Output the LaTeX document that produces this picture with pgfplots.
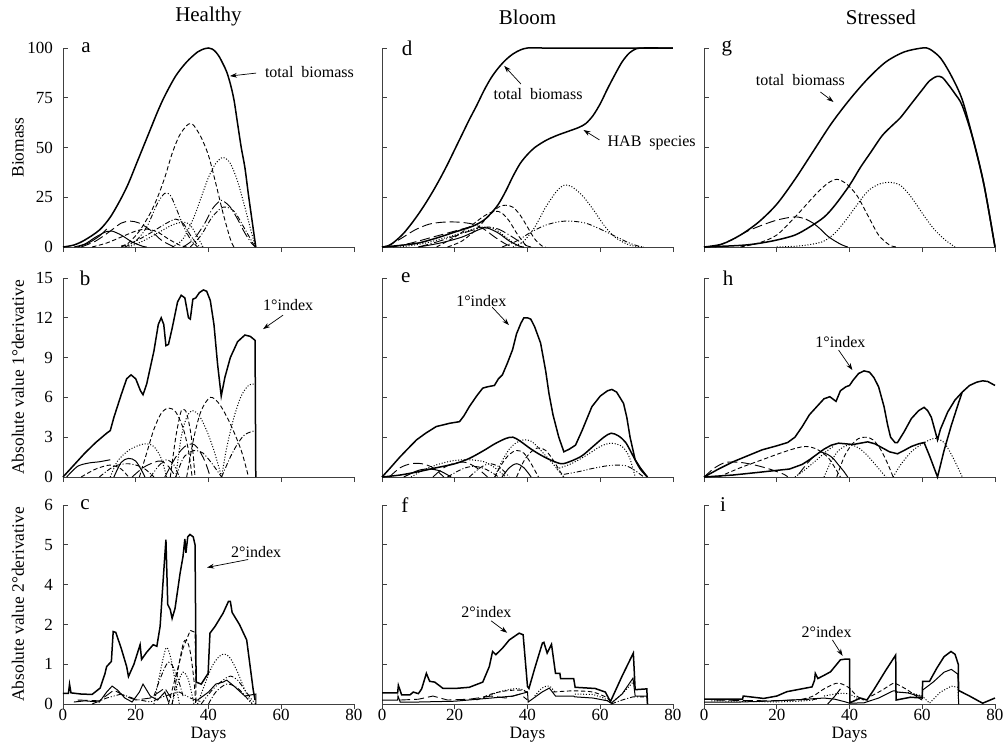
\documentclass[border=0pt]{standalone}
\usepackage{fontspec}
\setmainfont{Liberation Serif}
\usepackage{pgfplots}
\pgfplotsset{compat=1.18}
\usetikzlibrary{arrows.meta}
\tikzset{
  sp/.style={black, line width=0.5pt},
  idx/.style={black, line width=0.75pt},
  dsh/.style={black, line width=0.45pt, dash pattern=on 2.2pt off 1.3pt},
  dot/.style={black, line width=0.5pt, dash pattern=on 0.5pt off 0.9pt},
  ldsh/.style={black, line width=0.45pt, dash pattern=on 5pt off 2pt},
  ldd/.style={black, line width=0.45pt, dash pattern=on 5pt off 1.3pt on 0.5pt off 1.3pt},
  dd/.style={black, line width=0.45pt, dash pattern=on 2.5pt off 1pt on 0.5pt off 1pt},
  ddd/.style={black, line width=0.45pt, dash pattern=on 2.5pt off 1pt on 0.5pt off 1pt on 0.5pt off 1pt},
  ann/.style={font=\fontsize{8}{9}\selectfont},
  arr/.style={black, line width=0.35pt, -{Stealth[length=3.5pt,width=2.4pt]}},
  lett/.style={font=\fontsize{10.5}{12}\selectfont},
  ttl/.style={font=\fontsize{10.5}{12}\selectfont, anchor=center, inner sep=0pt},
}
\pgfplotsset{
  panel/.style={
    scale only axis, width=145.5pt, height=99.5pt, anchor=south west,
    xmin=0, xmax=80, xtick={0,20,40,60,80},
    axis lines=left,
    axis line style={black!75, line width=0.4pt, -},
    tick style={black!75, line width=0.4pt},
    major tick length=2.5pt,
    tick align=inside,
    major x tick style={yshift=-2.5pt},
    clip=false,
    /pgf/number format/assume math mode=true,
    tick label style={font=\fontsize{8.5}{10}\selectfont},
    label style={font=\fontsize{8.7}{10}\selectfont},
    yticklabel style={xshift=-1.5pt},
    xticklabel style={inner sep=1pt, yshift=-1.5pt},
    ylabel style={at={(axis description cs:-0.155,0.5)}, anchor=center},
    xlabel style={at={(axis description cs:0.5,-0.155)}, anchor=center, inner sep=0pt},
  },
  nox/.style={xticklabels={}},
  noy/.style={yticklabels={}},
  r1/.style={ymin=0,ymax=100,ytick={0,25,50,75,100}},
  r2/.style={ymin=0,ymax=15,ytick={0,3,6,9,12,15}},
  r3/.style={ymin=0,ymax=5,ytick={0,1,2,3,4,5}},
}
\begin{document}
\begin{tikzpicture}
\useasboundingbox (0pt,0pt) rectangle (501.5pt,-372pt);

% ================= a =================
\begin{axis}[panel, r1, nox, at={(31.5pt,-123.5pt)}, ylabel={Biomass}]
\addplot[idx, smooth] coordinates {(0,0)(3,1)(6,3.5)(10,8.5)(13,15)(16,24.5)(18,32)(20,41)(22,50)(24,59)(26,68)(28,76)(31,86)(34,93)(37,98)(39,99.7)(40,100)(41,99.5)(42,98)(43,95.5)(44,92)(45,88)(46,82)(47,74)(48,62)(49,50)(50,40)(51,26)(52,13)(53,0)};
\addplot[dsh, smooth] coordinates {(16,0.5)(18,2)(21,8)(24,17)(26,25)(28,35)(30,47)(32,56)(34,61)(35,62)(36,61)(38,55)(40,46)(42,32)(44,17)(46,4)(47,0)};
\addplot[dot, smooth] coordinates {(30,0)(33,4)(36,15)(38,25)(40,35)(42,42)(44,45)(46,42)(48,33)(50,20)(52,6)(53,0)};
\addplot[ldd, smooth] coordinates {(33,0)(36,4)(39,12)(41,19)(43,23)(44,23.2)(46,20)(48,14)(50,7)(52,1.5)(53,0)};
\addplot[ddd, smooth] coordinates {(17,0)(20,3)(23,10)(26,22)(28,27)(29.5,26)(31,20)(33,11)(35,4)(37,0)};
\addplot[dd, smooth] coordinates {(35,0)(38,6)(41,15)(44,20)(47,18)(50,9)(52.5,1)(53,0)};
\addplot[dd, smooth] coordinates {(16,0)(20,3)(24,7)(28,11.5)(31,14)(33,12)(35,6)(37,1)(38,0)};
\addplot[sp, smooth] coordinates {(3,0)(6,1.5)(9,5)(12,7.8)(13.5,8)(16,6)(19,2.5)(22,0.3)(23,0)};
\addplot[ldsh, smooth] coordinates {(5,0)(9,3)(13,8)(16,12)(18.5,13)(21,12)(24,8.5)(27,3.5)(30,0.5)(31,0)};
\addplot[dsh, smooth] coordinates {(8,0)(12,2)(16,5)(20,8)(23,9)(26,7.5)(29,4)(32,1)(34,0)};
\addplot[dot, smooth] coordinates {(18,0)(22,3)(26,7)(30,11)(33,12.5)(35,11)(37,5)(38.5,0)};
\addplot[sp, smooth] coordinates {(4,0)(7,2)(10,5.5)(12,9)};
\node[lett] at (rel axis cs:0.079,1) {a};
\node[ttl] at (rel axis cs:0.5,1.156) {Healthy};
\node[ann, anchor=west] at (axis cs:53.6,87.9) {total\ \ biomass};
\draw[arr] (axis cs:53.1,87.4) -- (axis cs:45.9,85.9);
\end{axis}

% ================= d =================
\begin{axis}[panel, r1, nox, noy, at={(191pt,-123.5pt)}]
\addplot[idx, smooth] coordinates {(0,0)(2,0.8)(4,3.5)(6,7)(8,11.5)(10,16.5)(12,22)(14,28)(16,34.5)(18,41.5)(20,49)(22,56.5)(24,64)(26,71)(28,78.5)(30,85)(32,90)(34,94)(36,97)(38,99)(40,100)(44,100)(48,100)(80,100)};
\addplot[idx, smooth] coordinates {(0,0)(5,0.8)(10,2)(15,4.5)(20,7.5)(25,10.5)(28,13.5)(30,17)(32,21.5)(34,28)(36,35.5)(38,42)(40,46.5)(42,50)(45,53.5)(48,56)(51,58)(54,60)(56,62)(58,66)(60,72)(62,79.5)(64,86.5)(66,93)(68,97.5)(70,99.7)(72,100)(76,100)(80,100)};
\addplot[dot, smooth] coordinates {(36,0)(39,3)(42,10)(45,20)(48,28)(50,31)(52,30.5)(55,26)(58,19)(61,11)(64,5)(68,1)(72,0)};
\addplot[ddd, smooth] coordinates {(33,0)(37,3)(41,7.5)(45,11)(49,12.8)(52,13)(56,12)(60,9)(64,5.5)(68,2)(71,0.2)(72,0)};
\addplot[dsh, smooth] coordinates {(18,0)(22,3)(26,9)(29,15)(32,20)(34,21)(36,20)(38,16)(40,10)(42,4)(44,0.5)(45,0)};
\addplot[dsh, smooth] coordinates {(15,0)(20,5)(24,10)(28,15.5)(31,18)(33,17)(35,13)(37,7)(39,2)(40,0)};
\addplot[ldsh, smooth] coordinates {(1,0)(5,4)(9,8.5)(13,11.5)(17,12.5)(21,12.5)(25,11.5)(28,9)(31,5)(34,1.5)(36,0)};
\addplot[ldd, smooth] coordinates {(10,0)(15,2.5)(20,5.5)(25,8.5)(29,10)(32,9)(35,6)(38,2.5)(40,0.5)(41,0)};
\addplot[dot, smooth] coordinates {(5,0)(12,2)(20,6)(25,9)(28,10)(31,9)(34,5)(37,1)(39,0)};
\addplot[sp, smooth] coordinates {(10,0)(16,2)(22,5)(27,9)(29,9.5)(32,7)(35,3)(38,0.3)(39,0)};
\addplot[ldsh, smooth] coordinates {(3,0)(8,2)(14,5)(20,8)(24,10)};
\node[lett] at (rel axis cs:0.086,1) {d};
\node[ttl] at (rel axis cs:0.5,1.156) {Bloom};
\node[ann] at (axis cs:42.9,76.9) {total\ \ biomass};
\draw[arr] (axis cs:38.2,81.9) -- (axis cs:33.6,91);
\node[ann, anchor=west] at (axis cs:60.1,52.3) {HAB\ \ species};
\draw[arr] (axis cs:59.8,53.8) -- (axis cs:55.4,58.8);
\end{axis}

% ================= g =================
\begin{axis}[panel, r1, nox, noy, at={(352pt,-123.5pt)}]
\addplot[idx, smooth] coordinates {(0,0)(5,1.5)(10,6)(15,12.5)(20,21.5)(25,34)(30,48)(35,62)(40,74)(45,84.5)(50,93)(55,98)(60,100)(62,99.5)(65,95)(68,86)(71,74)(74,54)(77,31)(80,0)};
\addplot[idx, smooth] coordinates {(0,0)(10,0.8)(15,1.8)(20,3.5)(25,6)(29,10)(33,15)(36,21)(40,31)(43,40)(46,48)(49,56)(52,61.5)(54,65)(57,72)(60,79)(62,83.5)(64,85.7)(65.5,85.2)(67,82)(69,77)(71,71)(74,54)(77,31)(80,0)};
\addplot[dsh, smooth] coordinates {(10,0)(15,2)(20,6)(25,15)(28,21)(31,27)(34,32)(36.5,34)(39,32)(42,26)(45,16)(48,6)(51,1)(53,0)};
\addplot[dot, smooth] coordinates {(20,0)(26,0.5)(30,1.5)(33,3)(36,7)(39,13.5)(42,21)(45,28)(48,31.5)(51,32.5)(54,31)(57,25)(60,17)(63,9.5)(66,4)(69,0)};
\addplot[ldsh, smooth] coordinates {(3,0)(8,4)(12,8)(16,11)(20,13.5)(24,15)(26,15)(28,14)};
\addplot[sp, smooth] coordinates {(28,14)(30,12)(32,9)(34,5.5)(36,3)(38,1)(39.5,0)};
\node[lett] at (rel axis cs:0.079,1) {g};
\node[ttl] at (rel axis cs:0.608,1.156) {Stressed};
\node[ann] at (axis cs:26.5,83.9) {total\ \ biomass};
\draw[arr] (axis cs:32,77.9) -- (axis cs:35.6,72.9);
\end{axis}

% ================= b =================
\begin{axis}[panel, r2, nox, at={(31.5pt,-238.5pt)}, ylabel={Absolute value 1°derivative}]
\addplot[idx] coordinates {(0,0)(3,0.9)(6,1.8)(9,2.6)(12,3.3)(13,3.5)(14,4.5)(16,6.2)(17.5,7.4)(18.7,7.7)(20,7.4)(21.3,6.5)(22,6.2)(23,7)(25,9.5)(26.2,11.5)(27,12)(27.7,11.5)(28.3,9.9)(29,10)(30,11.2)(31.5,13.2)(32.5,13.7)(33.5,13.5)(34.5,12)(35,11.9)(35.7,13.4)(36.5,13.5)(37.5,13.9)(38.6,14.1)(39.5,14)(40.5,13.3)(41.5,11.5)(42.5,8.5)(43.5,6.1)(44.5,7.5)(46,9)(48,10.2)(50,10.7)(51.5,10.6)(52.8,10.3)(53,0)};
\addplot[sp, smooth] coordinates {(1,0)(4,0.8)(7,1.05)(10,1.15)(13,1.3)};
\addplot[sp, smooth] coordinates {(14,0)(16,1.1)(18,1.4)(20,1.2)(22,0.3)(22.5,0)};
\addplot[dot, smooth] coordinates {(13,0)(15,1.2)(18,2.0)(21,2.4)(23,2.5)(25,2.3)(27,1.4)(28.5,0)};
\addplot[dsh, smooth] coordinates {(21,0)(23,1.8)(25,3.6)(27,4.8)(29,5.2)(31,4.9)(33,3.7)(34.5,2)(35.5,0)};
\addplot[dsh, smooth] coordinates {(29.5,0)(31,3)(32.3,4.8)(33,5.1)(34,4.8)(35.3,3)(36.3,0)};
\addplot[dot, smooth] coordinates {(31,0)(32.5,3)(34,4.5)(35.6,5.0)(37.5,4.6)(39.5,3.5)(41.5,2)(43.6,0)};
\addplot[dsh, smooth] coordinates {(34,0)(36,3)(38,5)(40.5,6)(43,5.5)(46,4)(49,2)(51,0)};
\addplot[dot, smooth] coordinates {(43.6,0)(45,2.2)(47,4.5)(49,6.1)(51,6.9)(52.8,7.0)};
\addplot[dd, smooth] coordinates {(43.6,0)(46,1.5)(48,2.5)(50,3.2)(52.8,3.5)};
\addplot[dd, smooth] coordinates {(31,0)(33,1.4)(35,1.9)(36.5,2.0)(38.5,1.8)(41,1.0)(43.6,0)};
\addplot[ldsh, smooth] coordinates {(28,0)(31,1.5)(33.5,2.3)(35.5,2.5)(37,2.2)(39,1.2)(40.5,0)};
\addplot[dsh, smooth] coordinates {(5,0)(9,0.6)(13,0.9)(16,0.6)(18,0)};
\addplot[dd, smooth] coordinates {(10,0)(14,0.8)(18,1)(22,0.7)(25,0)};
\addplot[ldsh, smooth] coordinates {(19,0)(22,0.7)(25,1.1)(27,1.2)(29,0.8)(31,0)};
\addplot[ddd, smooth] coordinates {(24,0)(26.5,0.9)(28.5,1.3)(30.5,0.9)(32,0)};
\node[lett] at (rel axis cs:0.076,1) {b};
\node[ann] at (axis cs:61.9,12.96) {1°index};
\draw[arr] (axis cs:60.5,12.2) -- (axis cs:55,11.15);
\end{axis}

% ================= e =================
\begin{axis}[panel, r2, nox, noy, at={(191pt,-238.5pt)}]
\addplot[idx] coordinates {(0,0)(2,0.6)(4.9,1.5)(7,2.1)(9.5,2.8)(12,3.3)(14.9,3.8)(18.6,4.05)(21.3,4.17)(22.5,4.6)(24,5.3)(26,6.1)(27.7,6.7)(29,6.8)(30.9,6.9)(32,7.4)(33.1,7.7)(34.5,8.6)(35.9,9.6)(37,10.8)(38.2,11.6)(39,12)(40,12)(40.9,11.9)(42,11.3)(43.6,10.1)(45,8)(45.9,6.3)(47,4.7)(48.6,3.0)(50,1.9)(51.5,2.1)(53.2,2.4)(55,3.5)(57.7,5.3)(60,6.1)(62,6.5)(63.2,6.6)(64.5,6.4)(66.4,5.55)(67.3,4.5)(68.2,3.0)(69.6,1.3)(71,0.7)(72.8,0.05)};
\addplot[idx, smooth] coordinates {(0,0)(5,0.15)(10,0.4)(15,0.7)(20,1.0)(24,1.4)(28,2.0)(31,2.5)(34,2.9)(36,3.0)(38,2.7)(41,2.1)(44,1.6)(47,1.2)(49.5,1.0)(52,1.2)(55,1.6)(58,2.3)(61,3.0)(63,3.3)(65,3.1)(67,2.6)(69,1.6)(71,0.6)(73,0)};
\addplot[dot, smooth] coordinates {(31,0)(33,1.2)(35,2.1)(37,2.6)(39,2.8)(41,2.7)(43,2.2)(45,1.6)(47,1.0)(49,0.3)(50,0)};
\addplot[dot, smooth] coordinates {(48,0.6)(52,1.0)(56,1.6)(60,2.3)(63,2.55)(66,2.3)(68,1.5)(69.6,0)};
\addplot[ddd, smooth] coordinates {(50,0.2)(54,0.4)(58,0.65)(62,0.85)(64.6,0.9)(67,0.85)(69,0.6)(71,0.2)(72,0)};
\addplot[dsh, smooth] coordinates {(37,0)(39,1.2)(41,1.9)(43,2.2)(45,2.0)(47,1.3)(49,0.4)(50,0)};
\addplot[dsh, smooth] coordinates {(31,0)(33,1.0)(35,1.7)(37,2.0)(39,1.8)(41,1.0)(43,0)};
\addplot[dot, smooth] coordinates {(8,0)(12,0.6)(16,1.0)(20,1.25)(24,1.3)(28,1.15)(31,0.7)(34,0)};
\addplot[ldsh, smooth] coordinates {(2,0)(5,0.7)(8,1.0)(11,1.0)(14,0.7)(17,0)};
\addplot[ldsh, smooth] coordinates {(14,0)(17,0.7)(20,1.05)(23,1.1)(26,0.7)(29,0)};
\addplot[dd, smooth] coordinates {(18,0)(22,0.6)(25,0.8)(28,0.65)(31,0.2)(32,0)};
\addplot[ddd, smooth] coordinates {(24,0)(27,0.7)(29.5,1.0)(32,0.8)(34,0.3)(35,0)};
\addplot[sp, smooth] coordinates {(6,0)(10,0.5)(13,0.6)(16,0.45)(19,0)};
\addplot[sp, smooth] coordinates {(33,0)(35,0.7)(37,1.0)(39,0.7)(41,0)};
\node[lett] at (rel axis cs:0.082,1) {e};
\node[ann] at (axis cs:27.3,13.3) {1°index};
\draw[arr] (axis cs:30.3,12.8) -- (axis cs:34.9,11.45);
\end{axis}

% ================= h =================
\begin{axis}[panel, r2, nox, noy, at={(352pt,-238.5pt)}]
\addplot[idx] coordinates {(0,0)(4,0.6)(8,1.15)(12,1.6)(16,2.05)(20,2.35)(23,2.6)(25,3.0)(27,3.8)(29,4.7)(31,5.3)(33,5.9)(34.6,6.05)(36.3,5.7)(37.5,6.5)(39,6.8)(40,6.9)(41,7.3)(42.5,7.8)(44,8.0)(45.5,7.9)(46.7,7.5)(48,6.8)(49.5,5.3)(50.5,3.9)(51.3,3.0)(52.5,2.6)(53.2,2.6)(55,3.4)(57,4.4)(59,5.0)(60.5,5.25)(61.5,5.0)(62.5,4.5)(63.5,3.5)(64.2,2.8)(65,3.6)(67,4.9)(69,5.8)(71,6.4)(73,6.9)(75,7.15)(76.6,7.25)(78,7.2)(80,6.9)};
\addplot[idx] coordinates {(0,0)(8,0.15)(15,0.35)(20,0.5)(23.5,0.6)(27,0.95)(29,1.3)(31,1.7)(33,2.1)(35,2.4)(37,2.55)(39,2.5)(41,2.45)(43,2.55)(45,2.65)(47,2.5)(49,2.2)(51,1.9)(53.2,1.75)(55,2.0)(57,2.3)(59,2.5)(60.5,2.6)(62,1.6)(64.2,0)(66,2.0)(68,3.9)(70,5.6)(71,6.4)};
\addplot[dsh, smooth] coordinates {(4,0)(10,0.7)(16,1.3)(21,1.8)(25,2.15)(28,2.3)(31,2.1)(34,1.5)(36,0.7)(37.5,0)};
\addplot[dsh, smooth] coordinates {(36.5,0)(38.5,1.5)(40.5,2.4)(42.5,2.9)(44.5,3.0)(46.5,2.8)(48.5,2.1)(50.5,1.0)(52,0)};
\addplot[dot, smooth] coordinates {(33,0)(35,1.2)(37,2.0)(39,2.35)(40.5,2.4)(42.5,2.2)(45,1.6)(47.5,0.8)(50,0)};
\addplot[dot, smooth] coordinates {(52,0)(54,0.9)(57,1.9)(60,2.5)(62.5,2.85)(64,2.9)(66,2.6)(68,1.7)(70,0.6)(71,0)};
\addplot[dot, smooth] coordinates {(25,0)(28,0.6)(31,1.3)(33.5,1.9)(35.5,2.3)};
\addplot[ldsh, smooth] coordinates {(0,0)(3,0.7)(6,1.1)(10,1.1)(14,0.9)(18,0.6)(22,0.2)(23,0)};
\addplot[ldsh, smooth] coordinates {(26,0.2)(28,0.9)(30,1.5)(32,1.9)};
\addplot[sp, smooth] coordinates {(32,1.9)(34,1.7)(35.5,1.4)(37,0.9)(38.5,0.4)(39.5,0)};
\node[lett] at (rel axis cs:0.083,1) {h};
\node[ann] at (axis cs:37.5,10.2) {1°index};
\draw[arr] (axis cs:37,9.57) -- (axis cs:40.8,8.06);
\end{axis}

% ================= c =================
\begin{axis}[panel, r3, at={(31.5pt,-352pt)}, yticklabels={0,1,2,4,5,6},
  xticklabels={0,20,40,60,80}, ylabel={Absolute value 2°derivative}, xlabel={Days}]
\addplot[idx] coordinates {(0,0.27)(1.5,0.27)(1.8,0.5)(2.2,0.28)(5,0.25)(8,0.24)(10.2,0.4)(11.5,0.75)(12,0.94)(13.3,1.07)(13.8,1.82)(14.5,1.8)(16,1.4)(17.5,0.94)(18,0.69)(19.5,1.0)(21.2,1.49)(21.6,1.12)(23,1.3)(24.8,1.49)(25.8,1.45)(26.7,1.95)(27.6,3.2)(28.3,4.13)(28.8,2.5)(29.5,2.37)(30,2.15)(30.8,2.4)(32.2,3.29)(33,3.71)(33.5,4.15)(33.8,3.8)(34.3,4.2)(34.9,4.26)(35.8,4.2)(36.3,4.0)(36.6,0.55)(38,0.5)(39.9,0.77)(40.4,1.78)(41.8,1.95)(44,2.28)(45.5,2.58)(46,2.58)(46.5,2.3)(48.5,2.0)(50.5,1.61)(52.3,0.35)(52.8,0.1)};
\addplot[dsh] coordinates {(29,0)(31,0.7)(33,1.4)(35,1.85)(36.3,1.8)(36.6,0)};
\addplot[dsh, smooth] coordinates {(30,0)(31.5,0.8)(33,1.5)(34,1.6)(35,1.3)(36,0.6)(36.5,0)};
\addplot[dot, smooth] coordinates {(25,0)(26.5,0.7)(28.3,1.4)(29.5,1.2)(31,0.5)(32,0)};
\addplot[dd, smooth] coordinates {(25,0.2)(27,0.7)(29,1.05)(31,0.8)(33,0.2)};
\addplot[dot, smooth] coordinates {(37,0)(39,0.5)(41,0.95)(43,1.2)(44.5,1.25)(46,1.15)(48,0.8)(50,0.35)(52,0)};
\addplot[ddd, smooth] coordinates {(38,0)(41,0.35)(44,0.6)(46,0.7)(48,0.6)(50,0.35)(52,0.1)(53,0)};
\addplot[dd, smooth] coordinates {(40,0)(42,0.3)(45,0.5)(48,0.4)(51,0.1)(52,0)};
\addplot[sp] coordinates {(37,0.1)(40,0.3)(42,0.5)(44,0.55)(45,0.6)(47,0.45)(50,0.2)(53,0.25)(53,0)};
\addplot[sp] coordinates {(3,0.05)(6,0.08)(10,0.05)(12,0.3)(13.5,0.45)(15,0.35)(17,0.15)(19,0.05)(21,0.3)(22,0.5)(24,0.2)(26,0.1)(28,0.3)(29,0.05)};
\addplot[dot, smooth] coordinates {(30,0)(31.5,0.5)(33,0.8)(34.5,0.6)(36,0)};
\addplot[ldsh] coordinates {(4,0.1)(10,0.08)(14,0.35)(17,0.2)(20,0.1)(24,0.15)(28,0.4)(30,0.1)};
\addplot[ddd] coordinates {(8,0)(12,0.15)(16,0.25)(20,0.12)(24,0.05)(28,0.2)(32,0.3)(35,0.15)(38,0.05)};
\node[lett] at (rel axis cs:0.076,1) {c};
\node[ann] at (axis cs:53.1,3.83) {2°index};
\draw[arr] (axis cs:50.9,3.63) -- (axis cs:39.6,3.43);
\end{axis}

% ================= f =================
\begin{axis}[panel, r3, noy, at={(191pt,-352pt)},
  xticklabels={0,20,40,60,80}, xlabel={Days}]
\addplot[idx] coordinates {(0,0.28)(4.3,0.28)(4.5,0.47)(5.4,0.23)(7.7,0.23)(8.6,0.3)(10,0.26)(10.9,0.38)(12.2,0.77)(13.1,0.57)(14.5,0.55)(16.8,0.39)(20,0.39)(24,0.42)(27.7,0.55)(29.5,0.94)(30.4,1.32)(31.3,1.24)(33.1,1.4)(35,1.61)(37.7,1.78)(38.8,1.74)(40,0.44)(40.4,0.39)(42,0.9)(44.1,1.53)(44.5,1.55)(45.4,1.28)(46.6,1.5)(47.7,0.77)(48.9,0.77)(49.1,0.64)(52.7,0.64)(53.1,0.42)(58.6,0.39)(61.4,0.3)(62.8,0.06)(66,0.7)(69.1,1.28)(69.6,0.36)(72.8,0.38)(73,0)};
\addplot[sp] coordinates {(0,0.1)(4.3,0.1)(4.4,0.2)(5,0.05)(10,0.05)(20,0.07)(30,0.15)(36,0.2)(40,0.3)(40.2,0.05)(44,0.3)(46,0.4)(47.7,0.2)(52.7,0.2)(53,0.18)(58,0.15)(62,0.08)(63,0.02)(66,0.25)(69,0.65)(69.6,0.2)(72.8,0.2)(73,0)};
\addplot[dot, smooth] coordinates {(28,0.15)(32,0.3)(36,0.38)(38,0.38)(40,0.3)};
\addplot[dsh, smooth] coordinates {(26,0.1)(30,0.25)(34,0.33)(38,0.35)(40,0.3)};
\addplot[dsh, smooth] coordinates {(47,0.3)(50,0.32)(53,0.33)(58,0.3)(62,0.15)(63,0.02)};
\addplot[dot] coordinates {(53,0.25)(58,0.24)(61,0.15)(63,0.02)(66,0.25)(69,0.55)(69.6,0.5)};
\addplot[dot, smooth] coordinates {(42,0.2)(44,0.4)(46,0.45)(47.5,0.3)};
\addplot[dd] coordinates {(63,0)(66,0.1)(69,0.18)(72,0.18)};
\addplot[ldsh] coordinates {(5,0.1)(10,0.12)(14,0.2)(18,0.1)(24,0.12)(30,0.2)(34,0.15)(38,0.25)(40,0.1)};
\node[lett] at (rel axis cs:0.079,1) {f};
\node[ann] at (axis cs:28.7,2.32) {2°index};
\draw[arr] (axis cs:30,2.09) -- (axis cs:34.4,1.79);
\end{axis}

% ================= i =================
\begin{axis}[panel, r3, noy, at={(352pt,-352pt)},
  xticklabels={0,20,40,60,80}, xlabel={Days}]
\addplot[idx] coordinates {(0,0.12)(10.6,0.12)(10.8,0.2)(16.4,0.14)(20,0.2)(22.8,0.31)(27.4,0.39)(29.7,0.43)(30.4,0.6)(30.6,0.77)(31.3,0.64)(33,0.72)(34.8,0.81)(37.5,1.11)(39,1.13)(40,1.13)(40.1,0.03)(43,0.15)(44.8,0.1)(46.7,0.36)(50,0.85)(52.7,1.23)(52.8,0.1)(56.8,0.17)(60,0.15)(60.1,0.57)(62,0.57)(64,0.9)(66,1.19)(67.9,1.32)(69,1.25)(69.9,1.0)(70,0.34)(73,0.2)(76.6,0.02)(80,0.15)};
\addplot[sp] coordinates {(0,0.05)(10,0.05)(20,0.08)(28,0.12)(33,0.15)(36,0.12)(39,0.05)(40,0.02)(44,0.03)(48,0.15)(52,0.33)(52.8,0.33)(53,0.3)(56,0.28)(59,0.2)(60,0.2)(60.1,0.35)(63,0.55)(66,0.8)(68,0.87)(69.8,0.75)(70,0.0)};
\addplot[sp] coordinates {(34,0)(36,0.2)(37.5,0.38)};
\addplot[dsh, smooth] coordinates {(27,0.12)(30,0.2)(33,0.38)(36.3,0.52)(38,0.5)(40,0.4)(42,0.2)(44,0.1)};
\addplot[dsh, smooth] coordinates {(46,0.2)(49,0.35)(52,0.52)(53,0.5)(56,0.35)(59,0.15)(60,0.1)};
\addplot[dot, smooth] coordinates {(33,0.2)(36,0.25)(38,0.27)(40,0.25)(42,0.15)(44,0.1)};
\addplot[dot] coordinates {(53,0.3)(57,0.28)(60,0.2)(62,0.02)(65,0.3)(68,0.45)(69.8,0.42)(70,0)};
\addplot[dot] coordinates {(2,0.08)(10,0.07)(20,0.05)(26,0.07)(30,0.1)};
\addplot[ldsh] coordinates {(3,0.1)(10,0.09)(18,0.08)(25,0.1)(31,0.12)};
\node[lett] at (rel axis cs:0.065,1) {i};
\node[ann] at (axis cs:33.7,1.81) {2°index};
\draw[arr] (axis cs:35.3,1.61) -- (axis cs:38.1,1.21);
\end{axis}
\end{tikzpicture}
\end{document}
